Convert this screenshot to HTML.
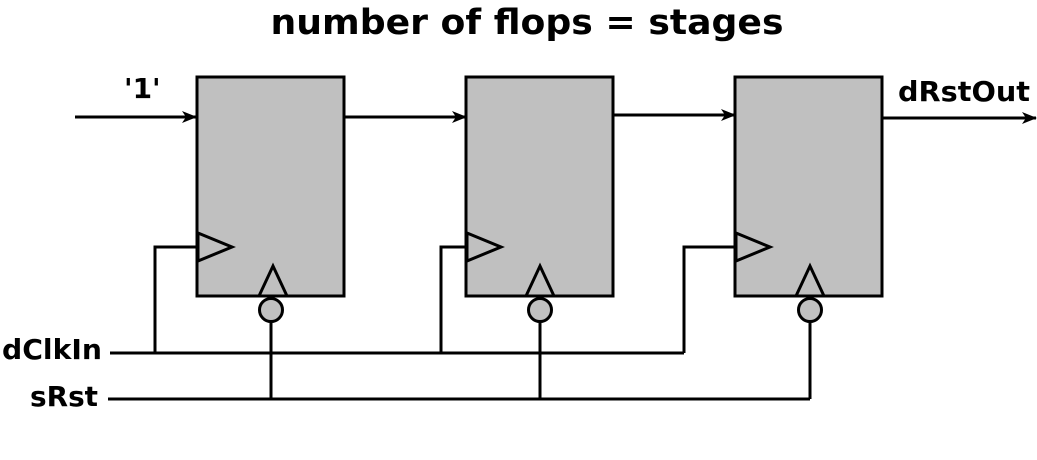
<!DOCTYPE html>
<html><head><meta charset="utf-8"><style>
html,body{margin:0;padding:0;background:#fff;width:1037px;height:460px;overflow:hidden}
text{font-family:"DejaVu Sans","Liberation Sans",sans-serif;font-weight:bold;fill:#000}
</style></head><body>
<svg width="1037" height="460" viewBox="0 0 1037 460">
<defs><marker id="ah" markerWidth="16" markerHeight="14" refX="14" refY="6" orient="auto" markerUnits="userSpaceOnUse"><path d="M0,0 L15,6 L0,12 L4,6 Z" fill="#000"/></marker></defs>
<text x="527" y="34" font-size="35" text-anchor="middle" textLength="513" lengthAdjust="spacingAndGlyphs">number of flops = stages</text>
<g stroke="#000" stroke-width="3" fill="#c0c0c0">
<rect x="197" y="77" width="147" height="219"/>
<rect x="466" y="77" width="147" height="219"/>
<rect x="735" y="77" width="147" height="219"/>
</g>
<g stroke="#000" stroke-width="3" fill="none">
<line x1="75" y1="117" x2="196" y2="117" marker-end="url(#ah)"/>
<line x1="344" y1="117" x2="466" y2="117" marker-end="url(#ah)"/>
<line x1="613" y1="115" x2="735" y2="115" marker-end="url(#ah)"/>
<line x1="882" y1="118" x2="1036" y2="118" marker-end="url(#ah)"/>
<polyline points="198,247 155,247 155,353"/>
<polyline points="467,247 441,247 441,353"/>
<polyline points="736,247 684,247 684,353"/>
<line x1="110" y1="353" x2="684" y2="353"/>
<line x1="271" y1="322" x2="271" y2="399"/>
<line x1="540" y1="322" x2="540" y2="399"/>
<line x1="810" y1="322" x2="810" y2="399"/>
<line x1="108" y1="399" x2="810" y2="399"/>
</g>
<g stroke="#000" stroke-width="3" fill="#c0c0c0">
<polygon points="198,233 232,247 198,261"/>
<polygon points="467,233 501,247 467,261"/>
<polygon points="736,233 770,247 736,261"/>
<polygon points="259,296 273,266 287,296"/>
<polygon points="526,296 540,266 554,296"/>
<polygon points="796,296 810,266 824,296"/>
<circle cx="271" cy="310" r="11.5"/>
<circle cx="540" cy="310" r="11.5"/>
<circle cx="810" cy="310" r="11.5"/>
</g>
<text x="124" y="98" font-size="28">'1'</text>
<text x="898" y="101" font-size="28" textLength="132" lengthAdjust="spacingAndGlyphs">dRstOut</text>
<text x="2" y="359" font-size="28" textLength="100" lengthAdjust="spacingAndGlyphs">dClkIn</text>
<text x="30" y="406" font-size="28" textLength="68" lengthAdjust="spacingAndGlyphs">sRst</text>
</svg>
</body></html>
